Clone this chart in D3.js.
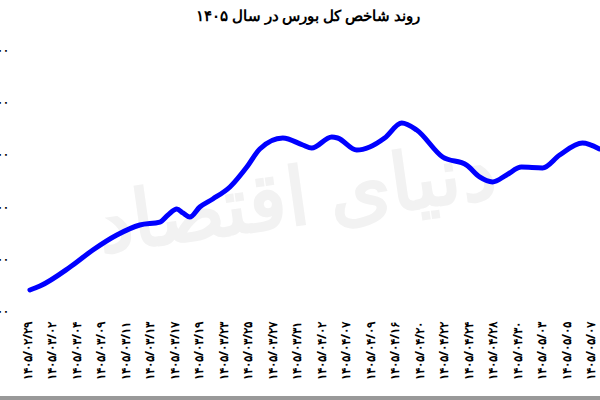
<!DOCTYPE html>
<html><head><meta charset="utf-8">
<script src="https://cdn.jsdelivr.net/npm/d3@7"></script>
<style>body{margin:0;background:#fff}</style>
</head><body><div id="chart"></div>
<script>
var dateLabels = ["1405/02/29","1405/03/02","1405/03/04","1405/03/09","1405/03/11","1405/03/13","1405/03/17","1405/03/19","1405/03/23","1405/03/25","1405/03/27","1405/03/31","1405/04/02","1405/04/07","1405/04/09","1405/04/16","1405/04/20","1405/04/22","1405/04/24","1405/04/28","1405/04/30","1405/05/03","1405/05/05","1405/05/07"];
// position along the date axis (label index, fractional) and index value
var pos = [0.12,0.53,1.76,2.69,3.67,4.61,5.43,5.76,6.12,6.37,6.65,7.06,7.59,8.29,8.98,9.51,10.45,11.27,11.63,12.45,12.69,13.47,14.0,14.61,15.31,15.92,16.98,17.96,18.49,19.02,19.59,20.2,21.06,21.76,22.69,23.39];
var values = [2201000,2239000,2421000,2584000,2728000,2824000,2852000,2920000,2977000,2939000,2900000,2996000,3073000,3188000,3379000,3552000,3657000,3590000,3561000,3667000,3657000,3542000,3571000,3657000,3801000,3734000,3475000,3398000,3284000,3236000,3303000,3379000,3370000,3494000,3609000,3552000];
var yTicks = [2000000,2500000,3000000,3500000,4000000,4500000];

function fa(s){ return String(s).replace(/\d/g,function(d){return "۰۱۲۳۴۵۶۷۸۹"[+d];}); }

var svg = d3.select("#chart").append("svg").attr("width",600).attr("height",400);
var x = d3.scaleLinear().domain([0,23]).range([27,590]);
var y = d3.scaleLinear().domain([2000000,4500000]).range([311,50]);

svg.append("text").attr("x",300).attr("y",225).attr("text-anchor","middle")
  .attr("font-family","Noto Sans").attr("font-size",80).attr("font-weight","bold")
  .attr("fill","#f2f2f2").attr("transform","rotate(-8,300,225)").text("دنیای اقتصاد");

svg.append("text").attr("x",308).attr("y",21).attr("text-anchor","middle")
  .attr("font-family","Noto Sans").attr("font-weight","bold").attr("font-size",15)
  .text("روند شاخص کل بورس در سال " + fa(1405));

svg.selectAll(".yl").data(yTicks).enter().append("text").attr("class","yl")
  .attr("x",9).attr("y",function(d){return y(d)+4;}).attr("text-anchor","end")
  .attr("font-family","Noto Sans").attr("font-weight","bold").attr("font-size",11)
  .text(function(d){return fa(d / 1000) + "٬" + fa("000");});

svg.selectAll(".xl").data(dateLabels).enter().append("text").attr("class","xl")
  .attr("transform",function(d,i){return "translate("+(x(i)+5)+",322) rotate(-90)";})
  .attr("text-anchor","end").attr("font-family","Noto Sans").attr("font-weight","bold")
  .attr("font-size",12).text(function(d){return fa(d);});

var line = d3.line().x(function(d,i){return x(pos[i]);}).y(function(d){return y(d);}).curve(d3.curveMonotoneX);
svg.append("path").datum(values).attr("d",line).attr("fill","none")
  .attr("stroke","#0000ff").attr("stroke-width",5).attr("stroke-linecap","round");

svg.append("rect").attr("x",0).attr("y",396).attr("width",600).attr("height",4).attr("fill","#999");
</script></body></html>
